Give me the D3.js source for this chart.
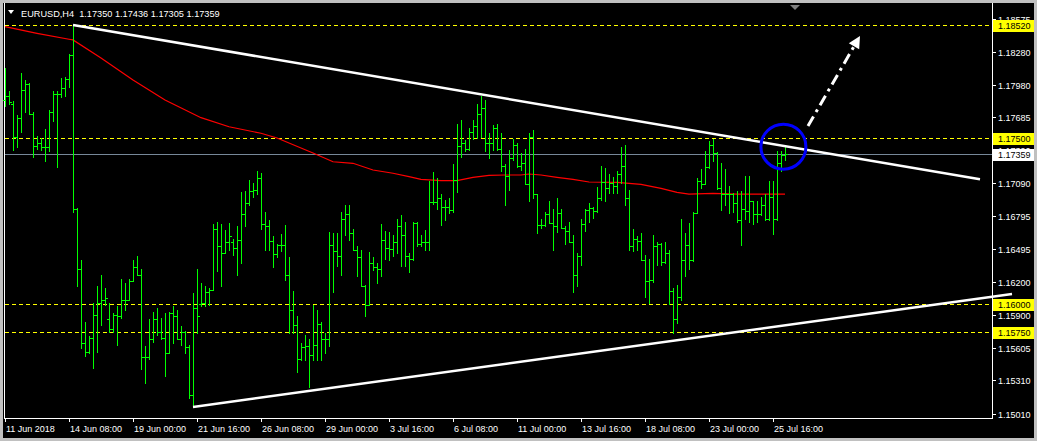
<!DOCTYPE html>
<html><head><meta charset="utf-8">
<script src="https://cdn.jsdelivr.net/npm/d3@7"></script>
<style>
body{margin:0;background:#c0c0c0;}
svg{display:block;}
text{font-family:"Liberation Sans",Arial,sans-serif;}
</style>
</head><body><svg id="c" width="1037" height="441"></svg>
<script>
// ---------- data ----------
const symbol = "EURUSD,H4";
const lastQuote = [1.17350, 1.17436, 1.17305, 1.17359];

const open = [1.1784,1.1788,1.1781,1.1751,1.1768,1.1793,1.1799,1.1772,1.1743,1.1745,1.1742,1.1742,1.1773,1.1790,1.1790,1.1795,1.1803,1.1825,1.1686,1.1632,
1.1565,1.1557,1.1569,1.1590,1.1601,1.1604,1.1586,1.1577,1.1590,1.1589,1.1604,1.1604,1.1621,1.1633,1.1626,1.1552,1.1552,1.1568,1.1586,1.1575,
1.1569,1.1556,1.1592,1.1589,1.1568,1.1575,1.1561,1.1518,1.1596,1.1600,1.1601,1.1611,1.1613,1.1668,1.1652,1.1646,1.1656,1.1656,1.1651,1.1658,
1.1681,1.1691,1.1702,1.1703,1.1714,1.1672,1.1670,1.1657,1.1645,1.1653,1.1653,1.1626,1.1595,1.1581,1.1550,1.1561,1.1562,1.1554,1.1563,1.1582,
1.1568,1.1568,1.1653,1.1648,1.1643,1.1677,1.1681,1.1664,1.1649,1.1642,1.1616,1.1599,1.1637,1.1633,1.1632,1.1658,1.1651,1.1650,1.1656,1.1670,
1.1662,1.1643,1.1641,1.1673,1.1654,1.1656,1.1656,1.1692,1.1692,1.1696,1.1688,1.1688,1.1685,1.1712,1.1743,1.1745,1.1740,1.1755,1.1761,1.1772,
1.1777,1.1745,1.1745,1.1759,1.1740,1.1725,1.1716,1.1732,1.1744,1.1725,1.1727,1.1708,1.1751,1.1699,1.1671,1.1671,1.1681,1.1673,1.1670,1.1682,
1.1669,1.1666,1.1656,1.1626,1.1643,1.1672,1.1685,1.1687,1.1684,1.1696,1.1710,1.1705,1.1709,1.1707,1.1717,1.1725,1.1696,1.1652,1.1659,1.1657,
1.1640,1.1621,1.1622,1.1652,1.1654,1.1638,1.1646,1.1612,1.1586,1.1606,1.1640,1.1653,1.1640,1.1682,1.1711,1.1708,1.1724,1.1744,1.1736,1.1705,
1.1699,1.1699,1.1699,1.1691,1.1676,1.1686,1.1684,1.1693,1.1681,1.1681,1.1689,1.1677,1.1697,1.1677,1.1727,1.17350];
const high = [1.1813,1.1792,1.1783,1.1771,1.1809,1.1802,1.1800,1.1773,1.1752,1.1750,1.1758,1.1775,1.1792,1.1792,1.1804,1.1805,1.1826,1.1852,1.1687,1.1640,
1.1584,1.1571,1.1601,1.1616,1.1626,1.1614,1.1601,1.1592,1.1598,1.1623,1.1619,1.1623,1.1640,1.1643,1.1632,1.1562,1.1586,1.1593,1.1596,1.1587,
1.1592,1.1593,1.1598,1.1595,1.1580,1.1576,1.1563,1.1610,1.1632,1.1619,1.1616,1.1614,1.1672,1.1674,1.1672,1.1667,1.1673,1.1659,1.1670,1.1701,
1.1702,1.1712,1.1709,1.1720,1.1718,1.1683,1.1676,1.1661,1.1654,1.1663,1.1671,1.1642,1.1612,1.1589,1.1565,1.1572,1.1568,1.1599,1.1595,1.1584,
1.1574,1.1665,1.1664,1.1664,1.1683,1.1689,1.1689,1.1668,1.1652,1.1649,1.1617,1.1647,1.1642,1.1637,1.1672,1.1666,1.1665,1.1662,1.1677,1.1680,
1.1674,1.1646,1.1674,1.1674,1.1662,1.1667,1.1711,1.1719,1.1714,1.1699,1.1694,1.1696,1.1726,1.1763,1.1766,1.1748,1.1759,1.1766,1.1781,1.1788,
1.1784,1.1754,1.1762,1.1763,1.1754,1.1726,1.1739,1.1749,1.1745,1.1736,1.1740,1.1754,1.1757,1.1699,1.1677,1.1683,1.1693,1.1686,1.1696,1.1686,
1.1670,1.1674,1.1662,1.1646,1.1677,1.1686,1.1691,1.1688,1.1706,1.1725,1.1723,1.1717,1.1715,1.1720,1.1742,1.1744,1.1703,1.1668,1.1661,1.1664,
1.1644,1.1641,1.1662,1.1656,1.1655,1.1656,1.1649,1.1614,1.1617,1.1677,1.1664,1.1673,1.1683,1.1714,1.1722,1.1738,1.1747,1.1749,1.1737,1.1727,
1.1722,1.1707,1.1700,1.1702,1.1702,1.1716,1.1716,1.1693,1.1693,1.1697,1.1699,1.1711,1.1711,1.1738,1.1738,1.17436];
const low = [1.1779,1.1781,1.1739,1.1742,1.1755,1.1773,1.1772,1.1733,1.1740,1.1739,1.1729,1.1738,1.1765,1.1724,1.1787,1.1788,1.1796,1.1683,1.1616,1.1560,
1.1553,1.1556,1.1542,1.1557,1.1581,1.1599,1.1575,1.1575,1.1563,1.1587,1.1595,1.1604,1.1621,1.1626,1.1541,1.1529,1.1550,1.1566,1.1572,1.1568,
1.1535,1.1556,1.1565,1.1568,1.1563,1.1556,1.1515,1.1507,1.1574,1.1598,1.1598,1.1599,1.1613,1.1630,1.1616,1.1646,1.1649,1.1644,1.1626,1.1637,
1.1670,1.1689,1.1697,1.1699,1.1668,1.1649,1.1649,1.1633,1.1642,1.1648,1.1622,1.1574,1.1574,1.1539,1.1549,1.1549,1.1525,1.1549,1.1549,1.1549,
1.1556,1.1562,1.1611,1.1634,1.1626,1.1662,1.1658,1.1649,1.1625,1.1616,1.1589,1.1599,1.1631,1.1619,1.1625,1.1641,1.1640,1.1643,1.1646,1.1634,
1.1634,1.1629,1.1640,1.1652,1.1652,1.1649,1.1649,1.1690,1.1686,1.1671,1.1676,1.1682,1.1683,1.1701,1.1733,1.1738,1.1739,1.1749,1.1750,1.1751,
1.1738,1.1732,1.1739,1.1739,1.1720,1.1689,1.1703,1.1730,1.1724,1.1721,1.1708,1.1693,1.1696,1.1664,1.1669,1.1670,1.1673,1.1649,1.1665,1.1669,
1.1654,1.1656,1.1611,1.1616,1.1635,1.1666,1.1674,1.1678,1.1683,1.1694,1.1693,1.1700,1.1700,1.1700,1.1709,1.1689,1.1649,1.1648,1.1649,1.1640,
1.1606,1.1601,1.1620,1.1635,1.1635,1.1637,1.1600,1.1574,1.1583,1.1604,1.1625,1.1632,1.1639,1.1682,1.1705,1.1708,1.1723,1.1729,1.1704,1.1685,
1.1689,1.1682,1.1683,1.1674,1.1653,1.1677,1.1674,1.1672,1.1674,1.1680,1.1676,1.1676,1.1663,1.1676,1.1720,1.17305];
const close = [1.1788,1.1782,1.1751,1.1768,1.1793,1.1799,1.1772,1.1743,1.1745,1.1742,1.1742,1.1773,1.1790,1.1790,1.1795,1.1803,1.1825,1.1686,1.1632,1.1565,
1.1557,1.1569,1.1590,1.1601,1.1604,1.1605,1.1577,1.1590,1.1589,1.1604,1.1604,1.1621,1.1633,1.1626,1.1552,1.1552,1.1568,1.1586,1.1575,1.1569,
1.1556,1.1592,1.1589,1.1568,1.1575,1.1561,1.1518,1.1596,1.1589,1.1601,1.1611,1.1613,1.1668,1.1652,1.1646,1.1656,1.1661,1.1651,1.1658,1.1681,
1.1691,1.1702,1.1703,1.1714,1.1672,1.1670,1.1657,1.1645,1.1653,1.1653,1.1626,1.1595,1.1581,1.1550,1.1561,1.1562,1.1554,1.1563,1.1582,1.1568,
1.1568,1.1653,1.1648,1.1643,1.1677,1.1681,1.1664,1.1649,1.1642,1.1616,1.1599,1.1637,1.1633,1.1632,1.1658,1.1651,1.1650,1.1656,1.1670,1.1662,
1.1643,1.1641,1.1673,1.1654,1.1656,1.1656,1.1692,1.1692,1.1696,1.1688,1.1688,1.1685,1.1712,1.1743,1.1745,1.1740,1.1755,1.1761,1.1772,1.1777,
1.1745,1.1745,1.1759,1.1740,1.1725,1.1716,1.1732,1.1744,1.1725,1.1727,1.1708,1.1751,1.1699,1.1671,1.1671,1.1681,1.1673,1.1670,1.1682,1.1669,
1.1666,1.1656,1.1626,1.1643,1.1672,1.1685,1.1687,1.1684,1.1696,1.1710,1.1705,1.1709,1.1707,1.1717,1.1725,1.1696,1.1652,1.1659,1.1657,1.1640,
1.1621,1.1622,1.1652,1.1654,1.1638,1.1646,1.1612,1.1586,1.1606,1.1640,1.1653,1.1640,1.1682,1.1711,1.1708,1.1724,1.1744,1.1736,1.1705,1.1699,
1.1699,1.1699,1.1691,1.1676,1.1686,1.1684,1.1693,1.1681,1.1681,1.1689,1.1677,1.1697,1.1677,1.1727,1.1735,1.17359];

// moving average (read at selected bars)
const maBar = [0,8,16,17,24,32,40,49,56,64,68,77,82,87,92,97,101,104,109,113,117,121,125,129,131,134,138,142,146,153,159,164,168,171,177,183,195];
const maVal = [1.18505,1.18445,1.18391,1.18385,1.18222,1.18023,1.17843,1.17683,1.17601,1.17542,1.17499,1.17364,1.17285,1.17271,1.17210,1.17181,1.17150,1.17126,1.17114,1.17114,1.17144,1.17162,1.17165,1.17165,1.17174,1.17165,1.17144,1.17126,1.17102,1.17099,1.17081,1.17045,1.17009,1.16993,1.16999,1.16993,1.16993];

const xTickBars = [0,16,32,48,64,80,96,112,128,144,160,176,192];
const xTickLabels = ["11 Jun 2018","14 Jun 08:00","19 Jun 00:00","21 Jun 16:00","26 Jun 08:00","29 Jun 00:00","3 Jul 16:00","6 Jul 08:00","11 Jul 00:00","13 Jul 16:00","18 Jul 08:00","23 Jul 00:00","25 Jul 16:00"];
const yTicks = [1.18575,1.18280,1.17980,1.17685,1.17390,1.17090,1.16795,1.16495,1.16200,1.15900,1.15605,1.15310,1.15010];
const levels = [1.18520,1.17500,1.16000,1.15750];
const levelLabels = ["1.18520","1.17500","1.16000","1.15750"];
const bidLabel = "1.17359";

const upperLineBars = [17, 243.75];
const upperLinePrices = [1.18520, 1.17127];
const lowerLineBars = [47, 251.75];
const lowerLinePrices = [1.15070, 1.16090];
const circleBar = 194.6, circlePrice = 1.17421;
const arrowBars = [200.75, 213.75];
const arrowPrices = [1.17608, 1.18421];

// ---------- drawing ----------
const svg = d3.select("#c");
const W = 1037, H = 441;
const plotL = 4, plotR = 992, plotB = 418;

const x = d3.scaleLinear().domain([0, 196]).range([5, 789]);
const y = d3.scaleLinear().domain([1.15010, 1.18520]).range([413.6, 25]);

svg.append("rect").attr("width", W).attr("height", H).attr("fill", "#c0c0c0");
svg.append("rect").attr("x", 3).attr("y", 3).attr("width", 1031).attr("height", 435).attr("fill", "#000");

// frame
const frame = svg.append("g").attr("stroke", "#fff").attr("stroke-width", 1).attr("shape-rendering", "crispEdges");
frame.append("line").attr("x1", plotL + 0.5).attr("x2", plotL + 0.5).attr("y1", 3).attr("y2", plotB + 0.5);
frame.append("line").attr("x1", plotL).attr("x2", plotR + 0.5).attr("y1", plotB + 0.5).attr("y2", plotB + 0.5);
frame.append("line").attr("x1", plotR + 0.5).attr("x2", plotR + 0.5).attr("y1", 3).attr("y2", plotB + 0.5);

// header
svg.append("path").attr("d", "M8,10 L14,10 L11,14 Z").attr("fill", "#fff");
const hdr = svg.append("text").attr("x", 21).attr("y", 16.5).attr("fill", "#fff").attr("font-size", 10)
  .style("white-space", "pre")
  .text(symbol + "  " + lastQuote.map(v => v.toFixed(5)).join(" "));
{
  const w = hdr.node().getComputedTextLength();
  if (w > 0) hdr.attr("font-size", (10 * 199 / w).toFixed(2));
}
svg.append("path").attr("d", "M790,5 L800,5 L795,10 Z").attr("fill", "#7f7f7f");

// level lines (yellow dashed)
svg.append("g").selectAll("line").data(levels).join("line")
  .attr("x1", plotL + 1).attr("x2", plotR)
  .attr("y1", d => Math.round(y(d)) + 0.5).attr("y2", d => Math.round(y(d)) + 0.5)
  .attr("stroke", "#ffff00").attr("stroke-width", 1).attr("stroke-dasharray", "4,3")
  .attr("shape-rendering", "crispEdges");

// bid line
const bid = lastQuote[3];
svg.append("line").attr("x1", plotL + 1).attr("x2", plotR)
  .attr("y1", Math.round(y(bid)) + 0.5).attr("y2", Math.round(y(bid)) + 0.5)
  .attr("stroke", "#778899").attr("stroke-width", 1).attr("shape-rendering", "crispEdges");

// moving average
const maPts = maBar.map((b, i) => [x(b), y(maVal[i])]);
svg.append("path").attr("d", d3.line()(maPts)).attr("fill", "none")
  .attr("stroke", "#ff0000").attr("stroke-width", 1.2);

// OHLC bars
const bars = svg.append("g").attr("fill", "#00ff00").attr("shape-rendering", "crispEdges");
open.forEach((o, i) => {
  const cx = Math.round(x(i));
  const yh = Math.round(y(high[i])), yl = Math.round(y(low[i]));
  bars.append("rect").attr("x", cx).attr("y", yh).attr("width", 1).attr("height", Math.max(1, yl - yh + 1));
  bars.append("rect").attr("x", cx - 2).attr("y", Math.round(y(o))).attr("width", 2).attr("height", 1);
  bars.append("rect").attr("x", cx + 1).attr("y", Math.round(y(close[i]))).attr("width", 2).attr("height", 1);
});

// trend lines
svg.append("line")
  .attr("x1", x(upperLineBars[0])).attr("y1", y(upperLinePrices[0]))
  .attr("x2", x(upperLineBars[1])).attr("y2", y(upperLinePrices[1]))
  .attr("stroke", "#fff").attr("stroke-width", 2.5);
svg.append("line")
  .attr("x1", x(lowerLineBars[0])).attr("y1", y(lowerLinePrices[0]))
  .attr("x2", x(lowerLineBars[1])).attr("y2", y(lowerLinePrices[1]))
  .attr("stroke", "#fff").attr("stroke-width", 2.5);

// circle
svg.append("circle").attr("cx", x(circleBar)).attr("cy", y(circlePrice)).attr("r", 22.5)
  .attr("fill", "none").attr("stroke", "#0000ff").attr("stroke-width", 3);

// dash-dot arrow
const ax1 = x(arrowBars[0]), ay1 = y(arrowPrices[0]), ax2 = x(arrowBars[1]), ay2 = y(arrowPrices[1]);
const ang = Math.atan2(ay2 - ay1, ax2 - ax1);
const hl = 12, hw = 6;
const bx = ax2 - hl * Math.cos(ang), by = ay2 - hl * Math.sin(ang);
svg.append("line").attr("x1", ax1).attr("y1", ay1).attr("x2", bx).attr("y2", by)
  .attr("stroke", "#fff").attr("stroke-width", 3).attr("stroke-dasharray", "11,5,3,5");
svg.append("path").attr("fill", "#fff")
  .attr("d", `M${ax2},${ay2} L${bx + hw * Math.sin(ang)},${by - hw * Math.cos(ang)} L${bx - hw * Math.sin(ang)},${by + hw * Math.cos(ang)} Z`);

// right price axis
const ya = svg.append("g");
yTicks.forEach(v => {
  const yy = Math.round(y(v)) + 0.5;
  ya.append("line").attr("x1", plotR).attr("x2", plotR + 4).attr("y1", yy).attr("y2", yy)
    .attr("stroke", "#fff").attr("shape-rendering", "crispEdges");
  ya.append("text").attr("x", 998).attr("y", yy + 3.5).attr("fill", "#fff").attr("font-size", 9).text(v.toFixed(5));
});
levels.forEach((v, i) => {
  const yy = y(v);
  ya.append("rect").attr("x", 993).attr("y", Math.round(yy) - 5).attr("width", 41).attr("height", 12).attr("fill", "#ffff00");
  ya.append("text").attr("x", 998).attr("y", Math.round(yy) + 4).attr("fill", "#000").attr("font-size", 9).text(levelLabels[i]);
});
{
  const yy = y(bid);
  ya.append("rect").attr("x", 993).attr("y", Math.round(yy) - 5).attr("width", 41).attr("height", 12).attr("fill", "#fff");
  ya.append("text").attr("x", 998).attr("y", Math.round(yy) + 4).attr("fill", "#000").attr("font-size", 9).text(bidLabel);
}

// bottom time axis
const xa = svg.append("g");
xTickBars.forEach((b, i) => {
  const xx = Math.round(x(b)) + 0.5;
  xa.append("line").attr("x1", xx).attr("x2", xx).attr("y1", plotB).attr("y2", plotB + 4)
    .attr("stroke", "#fff").attr("shape-rendering", "crispEdges");
  xa.append("text").attr("x", xx + 0.5).attr("y", 432).attr("fill", "#fff").attr("font-size", 9).text(xTickLabels[i]);
});
</script>
</body></html>
